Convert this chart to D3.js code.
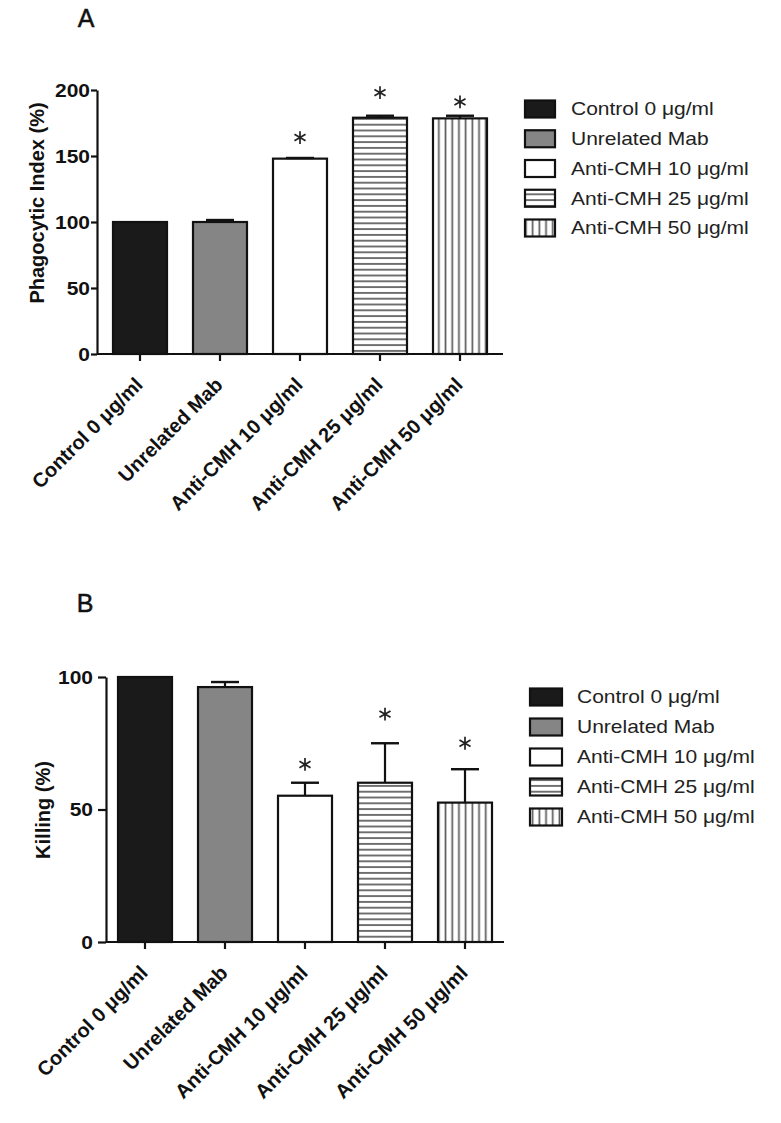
<!DOCTYPE html>
<html>
<head>
<meta charset="utf-8">
<script src="https://cdn.jsdelivr.net/npm/d3@7"></script>
<style>
  html, body { margin: 0; padding: 0; background: #fff; }
  svg { display: block; font-family: "Liberation Sans", Arial, sans-serif; }
</style>
</head>
<body>
<svg id="chart" width="781" height="1123"></svg>
<script>
// ---------- data ----------
const categories = ["Control 0 \u03bcg/ml", "Unrelated Mab", "Anti-CMH 10 \u03bcg/ml", "Anti-CMH 25 \u03bcg/ml", "Anti-CMH 50 \u03bcg/ml"];
const phagoMean = [100, 100, 148, 179, 178.5];
const phagoErr  = [0, 1.5, 0.5, 1.5, 2];
const phagoStar = [null, null, 164, 198, 191];
const phagoTicks = [0, 50, 100, 150, 200];

const killMean = [100, 96.2, 55.2, 60.1, 52.6];
const killErr  = [0, 1.9, 4.9, 14.9, 12.6];
const killStar = [null, null, 67, 86, 75];
const killTicks = [0, 50, 100];

// ---------- styles ----------
const fills = ["#1a1a1a", "#858585", "#ffffff", "url(#hlines)", "url(#vlines)"];
const svg = d3.select("#chart");
svg.append("rect").attr("width", 781).attr("height", 1123).attr("fill", "#fff");

const defs = svg.append("defs");
const ph = defs.append("pattern").attr("id", "hlines").attr("patternUnits", "userSpaceOnUse")
  .attr("width", 10).attr("height", 5.8);
ph.append("rect").attr("width", 10).attr("height", 5.8).attr("fill", "#fff");
ph.append("line").attr("x1", 0).attr("x2", 10).attr("y1", 2.9).attr("y2", 2.9)
  .attr("stroke", "#5a5a5a").attr("stroke-width", 1.7);
const pv = defs.append("pattern").attr("id", "vlines").attr("patternUnits", "userSpaceOnUse")
  .attr("width", 6.7).attr("height", 10);
pv.append("rect").attr("width", 6.7).attr("height", 10).attr("fill", "#fff");
pv.append("line").attr("y1", 0).attr("y2", 10).attr("x1", 3.35).attr("x2", 3.35)
  .attr("stroke", "#5a5a5a").attr("stroke-width", 1.7);

function panel(cfg) {
  const g = svg.append("g");
  const y = d3.scaleLinear().domain(cfg.domain).range([cfg.yBottom, cfg.yTop]);
  const x = d3.scaleBand().domain(categories).range([cfg.x0, cfg.x1])
    .paddingInner(0.325).paddingOuter(cfg.padOuter);

  // panel letter
  g.append("text").attr("x", cfg.letterX).attr("y", cfg.letterY)
    .attr("text-anchor", "middle").attr("font-size", 25).attr("fill", "#111")
    .attr("stroke", "#111").attr("stroke-width", 0.5)
    .text(cfg.letter);

  // bars
  g.selectAll("rect.bar").data(cfg.mean).join("rect").attr("class", "bar")
    .attr("x", (d, i) => x(categories[i]))
    .attr("y", d => y(d))
    .attr("width", x.bandwidth())
    .attr("height", d => y(0) - y(d))
    .attr("fill", (d, i) => fills[i])
    .attr("stroke", "#111").attr("stroke-width", 2.2);

  // error bars (upper only)
  cfg.mean.forEach((m, i) => {
    const e = cfg.err[i];
    if (!e) return;
    const cx = x(categories[i]) + x.bandwidth() / 2;
    g.append("line").attr("x1", cx).attr("x2", cx).attr("y1", y(m)).attr("y2", y(m + e))
      .attr("stroke", "#111").attr("stroke-width", 2.2);
    g.append("line").attr("x1", cx - 14).attr("x2", cx + 14).attr("y1", y(m + e)).attr("y2", y(m + e))
      .attr("stroke", "#111").attr("stroke-width", 2.4);
  });

  // stars
  const star = d3.symbol().type(d3.symbolAsterisk).size(115);
  cfg.star.forEach((s, i) => {
    if (s == null) return;
    const cx = x(categories[i]) + x.bandwidth() / 2;
    g.append("path").attr("d", star).attr("transform", `translate(${cx},${y(s)})`)
      .attr("fill", "none").attr("stroke", "#222").attr("stroke-width", 1.7);
  });

  // y axis
  const ya = g.append("g").attr("transform", `translate(${cfg.x0},0)`)
    .call(d3.axisLeft(y).tickValues(cfg.ticks).tickSize(cfg.tickLen).tickSizeOuter(0).tickPadding(0));
  ya.select(".domain").attr("stroke", "#111").attr("stroke-width", 2.2);
  ya.selectAll(".tick line").attr("stroke", "#111").attr("stroke-width", 2.2);
  ya.selectAll(".tick text").attr("font-size", 17.5).attr("font-weight", "bold").attr("fill", "#111")
    .attr("font-family", "Liberation Sans, Arial, sans-serif")
    .attr("x", -(cfg.labelGap) / 1.2).attr("dy", "0.36em")
    .attr("transform", "scale(1.2,1)");

  // x axis
  const xa = g.append("g").attr("transform", `translate(0,${y(0)})`)
    .call(d3.axisBottom(x).tickSize(7).tickSizeOuter(0).tickFormat(() => ""));
  xa.select(".domain").attr("stroke", "#111").attr("stroke-width", 2.2)
    .attr("d", `M${cfg.x0},0H${cfg.x1}`);
  xa.selectAll(".tick line").attr("stroke", "#111").attr("stroke-width", 2.2);
  xa.selectAll(".tick").append("text")
    .attr("transform", "translate(4,32) rotate(-45)")
    .attr("text-anchor", "end").attr("font-size", 20).attr("font-weight", "bold")
    .attr("fill", "#111").attr("font-family", "Liberation Sans, Arial, sans-serif")
    .text(d => d);

  // y label
  g.append("text").attr("transform", `translate(${cfg.yLabelX},${cfg.yLabelY}) rotate(-90)`)
    .attr("text-anchor", "middle").attr("font-size", 20).attr("font-weight", "bold")
    .attr("fill", "#111").text(cfg.yLabel);

  // legend
  categories.forEach((c, i) => {
    const cy = cfg.legY + i * cfg.legStep;
    g.append("rect").attr("x", cfg.legX).attr("y", cy - 8.5).attr("width", cfg.legW).attr("height", 17)
      .attr("fill", fills[i]).attr("stroke", "#111").attr("stroke-width", 2.2);
    g.append("text").attr("transform", `translate(${cfg.legTextX},${cy}) scale(1.2,1)`)
      .attr("dy", "0.36em").attr("font-size", 17.5).attr("fill", "#222").text(c);
  });
}

panel({
  letter: "A", letterX: 86, letterY: 27,
  domain: [0, 200], yBottom: 354, yTop: 90, ticks: phagoTicks,
  x0: 97, x1: 503, padOuter: 0.2, tickLen: 6, labelGap: 7,
  mean: phagoMean, err: phagoErr, star: phagoStar,
  yLabel: "Phagocytic Index (%)", yLabelX: 44, yLabelY: 203,
  legX: 525, legW: 30, legY: 109, legStep: 29.75, legTextX: 571
});

panel({
  letter: "B", letterX: 85, letterY: 612,
  domain: [0, 100], yBottom: 942, yTop: 677, ticks: killTicks,
  x0: 106, x1: 504, padOuter: 0.15, tickLen: 8, labelGap: 13,
  mean: killMean, err: killErr, star: killStar,
  yLabel: "Killing (%)", yLabelX: 49.5, yLabelY: 810,
  legX: 530, legW: 32, legY: 697, legStep: 30, legTextX: 577
});
</script>
</body>
</html>
